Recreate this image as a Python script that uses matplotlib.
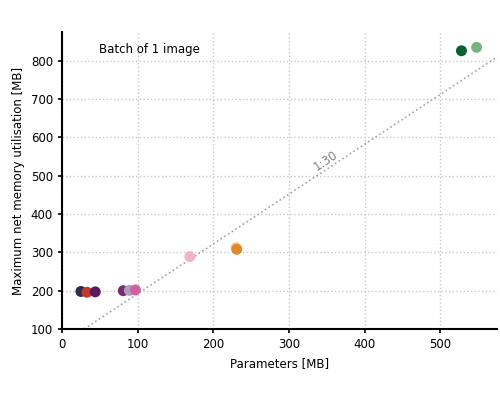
import numpy as np
import matplotlib.pyplot as plt

# parametros [MB] y memoria maxima [MB]
params = [25, 33, 44, 81, 89, 97, 169, 230, 231, 528, 548]
memoria = [198, 196, 197, 200, 201, 202, 289, 312, 308, 826, 835]
colores = ['#2b2d4f', '#c0392b', '#5e1a5e', '#7a2a70', '#a9a0c0', '#d0619e',
           '#f2b3c6', '#f6c98a', '#e0892d', '#0b5e2e', '#74b57f']

pendiente = 1.30
ordenada = 62
etiqueta_recta = '1:30'

fig = plt.figure(figsize=(5, 3.95), dpi=100)
ax = fig.add_axes([0.124, 0.167, 0.87, 0.752])

x_recta = np.array([0, 600])
ax.plot(x_recta, pendiente * x_recta + ordenada, linestyle=':', color='#a89cb4',
        linewidth=1.2, zorder=1)
ax.text(348, 540, etiqueta_recta, rotation=33.5, color='gray', fontsize=8.5,
        ha='center', va='center')

ax.scatter(params, memoria, c=colores, s=62, zorder=3, edgecolors='none')

ax.set_xlim(0, 575)
ax.set_ylim(100, 875)
ax.set_xticks([0, 100, 200, 300, 400, 500])
ax.set_yticks([100, 200, 300, 400, 500, 600, 700, 800])
ax.tick_params(labelsize=8.5, width=1.2, length=3)
ax.grid(True, linestyle=':', color='#c8c8c8', linewidth=1)
ax.set_axisbelow(True)
for lado in ['top', 'right']:
    ax.spines[lado].set_visible(False)
for lado in ['left', 'bottom']:
    ax.spines[lado].set_linewidth(1.5)

ax.set_xlabel("Parameters [MB]", fontsize=8.5)
ax.set_ylabel("Maximum net memory utilisation [MB]", fontsize=8.5)
ax.text(0.085, 0.94, "Batch of 1 image", transform=ax.transAxes, fontsize=8.5,
        va='center')

plt.savefig("out.png", dpi=100)
